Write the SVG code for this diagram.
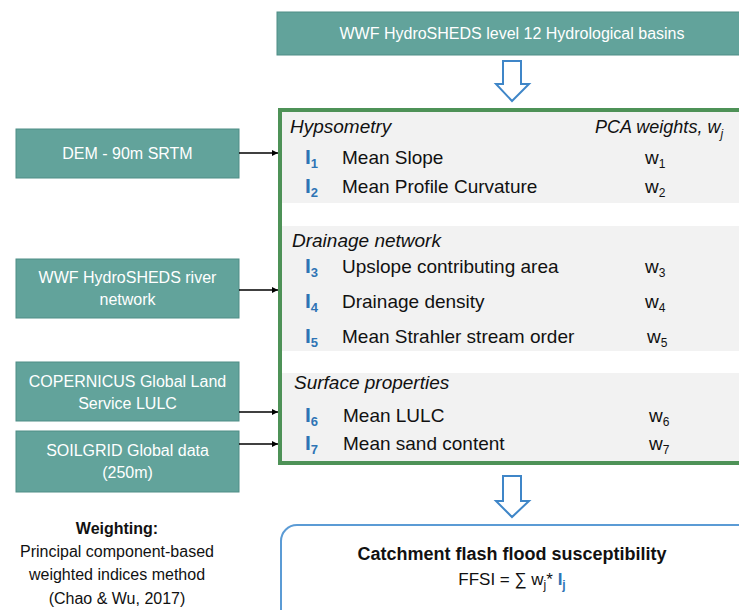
<svg xmlns="http://www.w3.org/2000/svg" width="739" height="610" viewBox="0 0 739 610">
<style>
.src{fill:#62a39b;stroke:#4f8d86;stroke-width:1}
.st{font-family:"Liberation Sans",Arial,sans-serif;font-size:16px;fill:#ffffff;text-anchor:middle}
.hd{font-family:"Liberation Sans",Arial,sans-serif;font-size:19px;font-style:italic;fill:#111}
.lb{font-family:"Liberation Sans",Arial,sans-serif;font-size:19px;fill:#111}
.ix{font-family:"Liberation Sans",Arial,sans-serif;font-size:21px;font-weight:bold;fill:#2e74b5}
.ixs{font-size:13px}
.sub{font-size:12px}
.sec{fill:#f2f2f2}
.blk{fill:#ffffff;stroke:#3f86c8;stroke-width:2;stroke-linejoin:miter}
.con{stroke:#000;stroke-width:1.3;fill:none}
.tx{font-family:"Liberation Sans",Arial,sans-serif;font-size:16px;fill:#111;text-anchor:middle}
</style>
<defs>
<marker id="ah" viewBox="0 0 10 10" refX="10" refY="5" markerWidth="6" markerHeight="6" markerUnits="userSpaceOnUse" orient="auto">
<path d="M0,0 L10,5 L0,10 Z" fill="#000"/>
</marker>
</defs>
<rect width="739" height="610" fill="#ffffff"/>

<g id="basins">
<rect class="src" x="277" y="12" width="470" height="43"/>
<text class="st" x="512" y="39">WWF HydroSHEDS level 12 Hydrological basins</text>
</g>

<g id="arrow-top"><path class="blk" d="M503,61 H521 V84 H529 L512,101 L496,84 H503 Z"/></g>

<g id="indices">
<rect x="280" y="110" width="470" height="353" fill="#ffffff" stroke="#4e9257" stroke-width="4"/>
<rect class="sec" x="282" y="112" width="460" height="91"/>
<rect class="sec" x="282" y="226" width="460" height="125"/>
<rect class="sec" x="282" y="373" width="460" height="88"/>
<text class="hd" x="290" y="133">Hypsometry</text>
<text class="hd" x="595" y="133" style="font-size:18px">PCA weights, w<tspan class="sub" dy="5">j</tspan></text>
<text class="ix" x="305" y="164">I<tspan class="ixs" dy="4">1</tspan></text>
<text class="lb" x="342" y="164">Mean Slope</text>
<text class="lb" x="645" y="164">w<tspan class="sub" dy="4">1</tspan></text>
<text class="ix" x="305" y="193">I<tspan class="ixs" dy="4">2</tspan></text>
<text class="lb" x="342" y="193">Mean Profile Curvature</text>
<text class="lb" x="645" y="193">w<tspan class="sub" dy="4">2</tspan></text>
<text class="hd" x="292" y="247">Drainage network</text>
<text class="ix" x="305" y="273">I<tspan class="ixs" dy="4">3</tspan></text>
<text class="lb" x="342" y="273">Upslope contributing area</text>
<text class="lb" x="645" y="273">w<tspan class="sub" dy="4">3</tspan></text>
<text class="ix" x="305" y="308">I<tspan class="ixs" dy="4">4</tspan></text>
<text class="lb" x="342" y="308">Drainage density</text>
<text class="lb" x="645" y="308">w<tspan class="sub" dy="4">4</tspan></text>
<text class="ix" x="305" y="343">I<tspan class="ixs" dy="4">5</tspan></text>
<text class="lb" x="342" y="343">Mean Strahler stream order</text>
<text class="lb" x="647" y="343">w<tspan class="sub" dy="4">5</tspan></text>
<text class="hd" x="294" y="389">Surface properties</text>
<text class="ix" x="305" y="422">I<tspan class="ixs" dy="4">6</tspan></text>
<text class="lb" x="343" y="422">Mean LULC</text>
<text class="lb" x="649" y="422">w<tspan class="sub" dy="4">6</tspan></text>
<text class="ix" x="305" y="450">I<tspan class="ixs" dy="4">7</tspan></text>
<text class="lb" x="343" y="450">Mean sand content</text>
<text class="lb" x="649" y="450">w<tspan class="sub" dy="4">7</tspan></text>
</g>

<g id="dem">
<rect class="src" x="16" y="129" width="223" height="49"/>
<text class="st" x="127.5" y="159">DEM - 90m SRTM</text>
</g>
<g id="river">
<rect class="src" x="16" y="259" width="223" height="59"/>
<text class="st" x="127.5" y="283">WWF HydroSHEDS river</text>
<text class="st" x="127.5" y="305">network</text>
</g>
<g id="lulc">
<rect class="src" x="16" y="362" width="223" height="59"/>
<text class="st" x="127.5" y="387">COPERNICUS Global Land</text>
<text class="st" x="127.5" y="409">Service LULC</text>
</g>
<g id="soil">
<rect class="src" x="16" y="431" width="223" height="61"/>
<text class="st" x="127.5" y="456">SOILGRID Global data</text>
<text class="st" x="127.5" y="478">(250m)</text>
</g>

<g id="connectors">
<line class="con" x1="239" y1="153" x2="278" y2="153" marker-end="url(#ah)"/>
<line class="con" x1="239" y1="290" x2="278" y2="290" marker-end="url(#ah)"/>
<line class="con" x1="239" y1="412" x2="278" y2="412" marker-end="url(#ah)"/>
<line class="con" x1="239" y1="444" x2="278" y2="444" marker-end="url(#ah)"/>
</g>

<g id="arrow-bottom"><path class="blk" d="M503,476 H521 V501 H529 L512,517 L496,501 H503 Z"/></g>

<g id="ffsi">
<rect x="281" y="525" width="500" height="120" rx="16" fill="#ffffff" stroke="#5b9bd5" stroke-width="2"/>
<text class="tx" x="512" y="560" style="font-size:18px;font-weight:bold">Catchment flash flood susceptibility</text>
<text class="tx" x="512" y="585" style="font-size:17px">FFSI =  ∑ w<tspan class="sub" dy="4">j</tspan><tspan dy="-4">* </tspan><tspan dy="0" style="fill:#2e74b5;font-weight:bold">I</tspan><tspan class="sub" dy="4" style="fill:#2e74b5;font-weight:bold">j</tspan></text>
</g>

<g id="weighting">
<text class="tx" x="117" y="534" style="font-weight:bold">Weighting:</text>
<text class="tx" x="117" y="557">Principal component-based</text>
<text class="tx" x="117" y="580">weighted indices method</text>
<text class="tx" x="117" y="604">(Chao &amp; Wu, 2017)</text>
</g>
</svg>
